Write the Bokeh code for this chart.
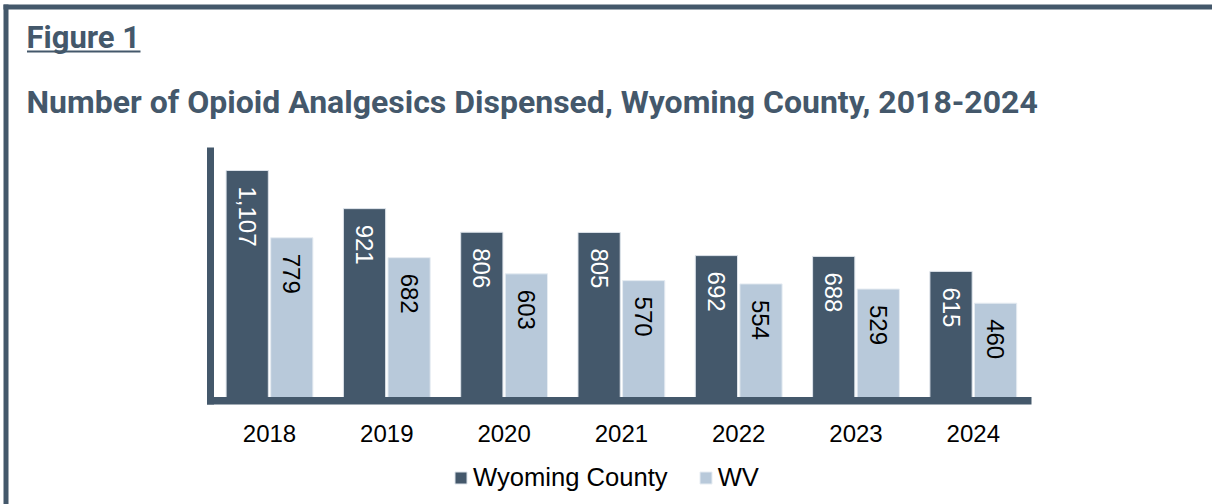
import math
from bokeh.plotting import figure
from bokeh.models import (ColumnDataSource, LabelSet, Label, Legend, LegendItem,
                          BoxAnnotation, Range1d)
from bokeh.core.properties import value
from bokeh.embed import file_html
from bokeh.resources import INLINE

# ---- data ----
years = ["2018", "2019", "2020", "2021", "2022", "2023", "2024"]
wyoming_county = [1107, 921, 806, 805, 692, 688, 615]
wv_state = [779, 682, 603, 570, 554, 529, 460]
series_names = ["Wyoming County", "WV"]
fig_label = "Figure 1"
title_text = "Number of Opioid Analgesics Dispensed, Wyoming County, 2018-2024"

DARK = "#44586b"
LIGHT = "#b8c9da"
W, H = 1212, 504
PX_PER_CAT = 117.3      # pixels per category slot
PX_PER_UNIT = 0.20506   # pixels per dispensed unit
X0_PX = 269             # canvas x of first category centre
Y0_PX = 397             # canvas y of value 0

idx = list(range(len(years)))
OFF, BW = 0.19, 0.36
src = ColumnDataSource(dict(
    i=idx,
    xw=[k - OFF for k in idx],
    xv=[k + OFF for k in idx],
    year=years,
    zero=[0] * len(years),
    wy=wyoming_county,
    wv=wv_state,
    wy_lbl=[f"{v:,}" for v in wyoming_county],
    wv_lbl=[f"{v:,}" for v in wv_state],
))

p = figure(
    width=W, height=H,
    x_range=Range1d(-X0_PX / PX_PER_CAT, (W - X0_PX) / PX_PER_CAT),
    y_range=Range1d(-(H - Y0_PX) / PX_PER_UNIT, Y0_PX / PX_PER_UNIT),
    output_backend="svg", toolbar_location=None,
    min_border=0, x_axis_type=None, y_axis_type=None,
)
p.outline_line_color = None
p.grid.visible = False
p.background_fill_color = "white"
p.border_fill_color = "white"

def sbox(left, right, bottom, top):
    return BoxAnnotation(left=left, right=right, bottom=bottom, top=top,
                         left_units="screen", right_units="screen",
                         bottom_units="screen", top_units="screen",
                         fill_color=DARK, fill_alpha=1, line_color=None)

# page frame (left and top rules)
p.add_layout(sbox(3, 8, 0, 500))
p.add_layout(sbox(3, W, 495, 500))

r1 = p.vbar(x="xw", top="wy", width=BW, bottom=0, source=src,
            fill_color=DARK, line_color="#dde3ea", line_width=1)
r2 = p.vbar(x="xv", top="wv", width=BW, bottom=0, source=src,
            fill_color=LIGHT, line_color="#e6ecf2", line_width=1)

# axis rules
p.add_layout(sbox(206.5, 213.5, 100, 357))     # vertical axis
p.add_layout(sbox(206.5, 1031, 100, 107.5))    # horizontal axis

# value labels inside bars
p.add_layout(LabelSet(x="xw", y="wy", text="wy_lbl", source=src,
                      angle=-math.pi / 2, text_align="left", text_baseline="middle", y_offset=-16,
                      text_color="white", text_font=value("Liberation Sans"), text_font_size="24px"))
p.add_layout(LabelSet(x="xv", y="wv", text="wv_lbl", source=src,
                      angle=-math.pi / 2, text_align="left", text_baseline="middle", y_offset=-16,
                      text_color="black", text_font=value("Liberation Sans"), text_font_size="24px"))

# category labels
p.add_layout(LabelSet(x="i", y="zero", text="year", source=src,
                      text_align="center", text_baseline="middle", y_offset=-36,
                      text_color="black", text_font=value("Liberation Sans"), text_font_size="24px"))

# titles
p.add_layout(Label(x=26, y=467.5, x_units="screen", y_units="screen", text=fig_label,
                   text_font="Roboto", text_font_style="bold", text_font_size="31px",
                   text_color=DARK, text_align="left", text_baseline="alphabetic"))
p.add_layout(sbox(26.5, 140, 452, 454))
p.add_layout(Label(x=26, y=403, x_units="screen", y_units="screen", text=title_text,
                   text_font="Roboto", text_font_style="bold", text_font_size="32px",
                   text_color=DARK, text_align="left", text_baseline="alphabetic"))

legend = Legend(items=[LegendItem(label=series_names[0], renderers=[r1]),
                       LegendItem(label=series_names[1], renderers=[r2])],
                location=(453, 12), orientation="horizontal",
                glyph_width=15, glyph_height=15, label_standoff=5, spacing=30,
                padding=0, margin=0, border_line_color=None, background_fill_alpha=0,
                label_text_font="Liberation Sans", label_text_font_size="25.6px", label_text_color="black")
p.add_layout(legend, "center")

open("out.html", "w").write(file_html(p, INLINE))
